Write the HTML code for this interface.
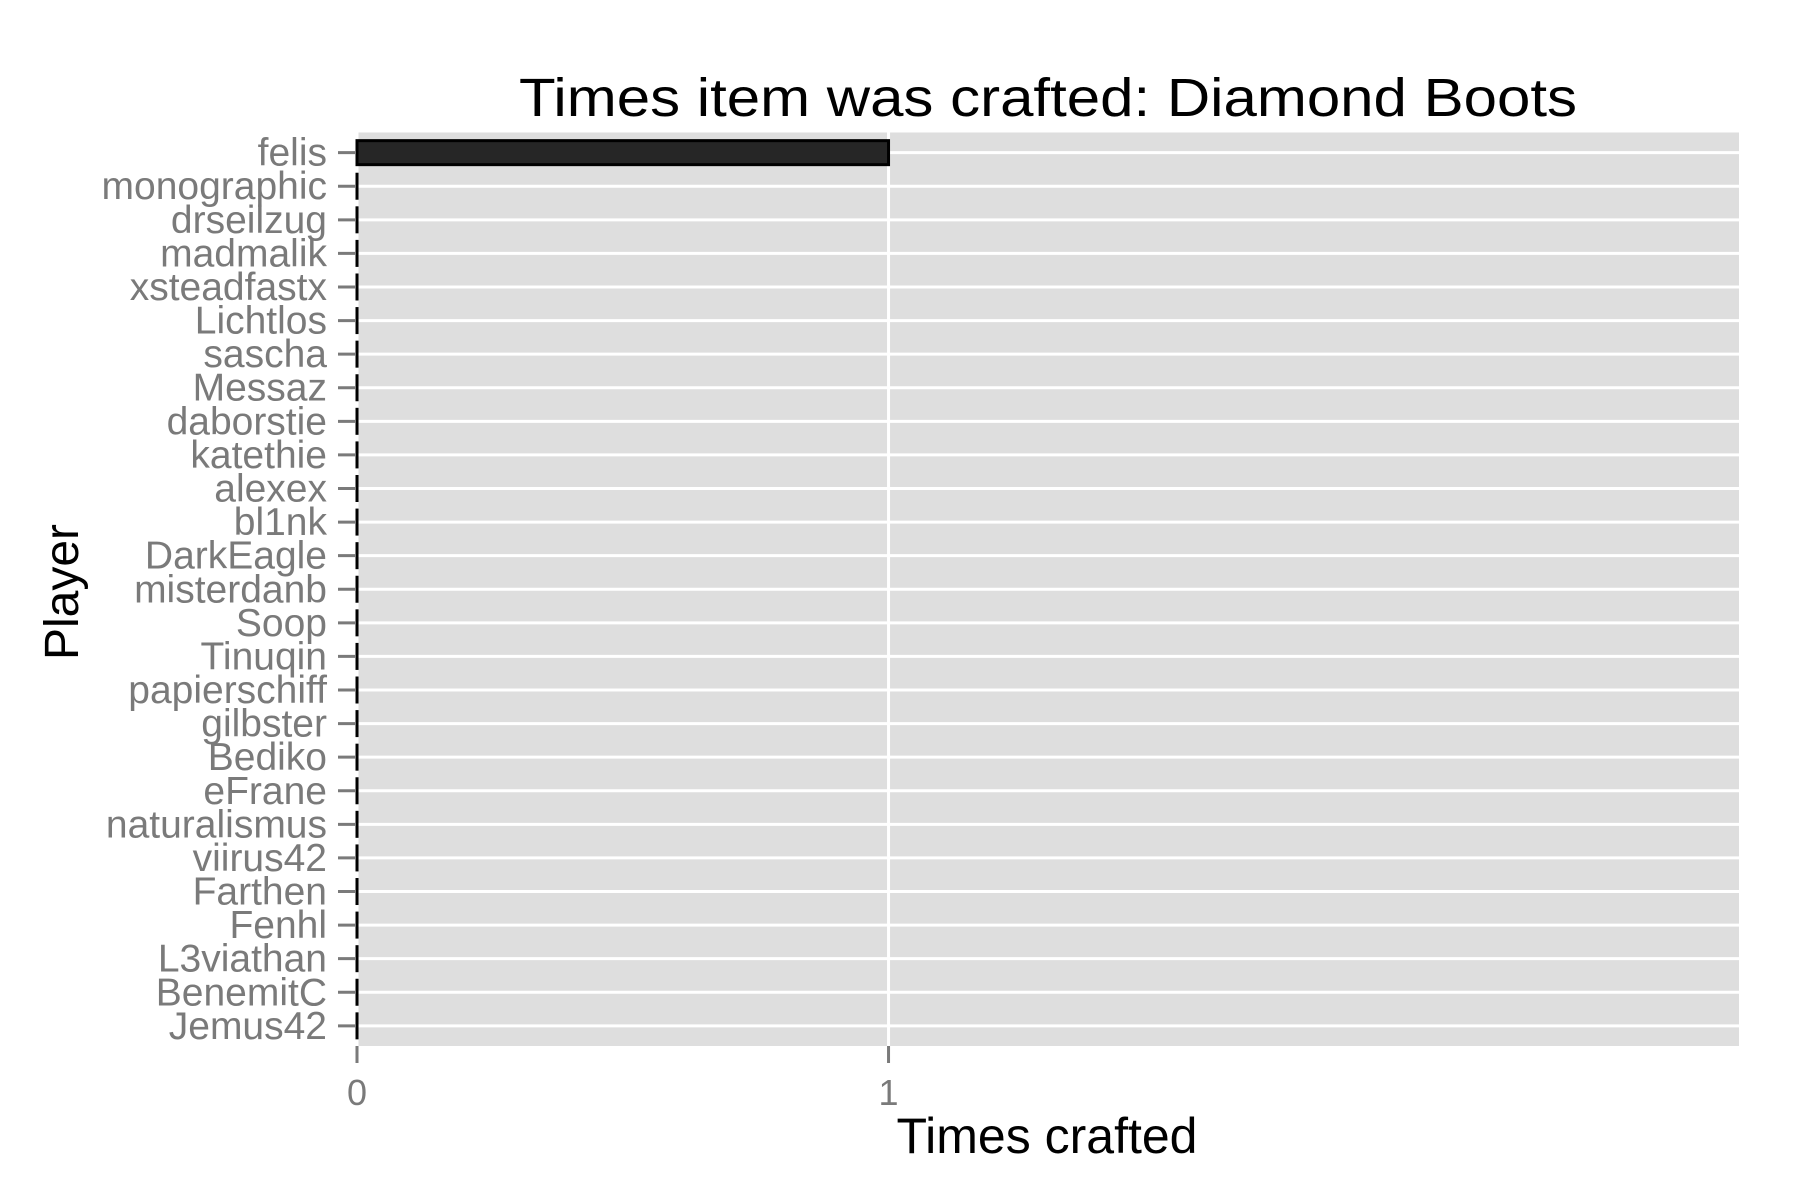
<!DOCTYPE html>
<html><head><meta charset="utf-8"><style>
html,body{margin:0;padding:0;background:#fff}
svg{display:block}
text{font-family:"Liberation Sans",Arial,sans-serif}
</style></head><body>
<svg id="chart" width="1800" height="1200" xmlns="http://www.w3.org/2000/svg">
<rect id="panel" x="357" y="132.5" width="1382" height="913.5" fill="#dedede"/>
<g id="grid"></g>
<g id="bars"></g>
<g id="yaxis"></g>
<g id="xaxis"></g>
<text x="1048" y="116" font-size="54" textLength="1058" lengthAdjust="spacingAndGlyphs" text-anchor="middle" fill="#000">Times item was crafted: Diamond Boots</text>
<text x="1047" y="1153" font-size="50" text-anchor="middle" fill="#000">Times crafted</text>
<text transform="translate(78,592) rotate(-90)" font-size="48" text-anchor="middle" fill="#000">Player</text>
</svg>
<script>
const players = ["felis","monographic","drseilzug","madmalik","xsteadfastx","Lichtlos","sascha","Messaz","daborstie","katethie","alexex","bl1nk","DarkEagle","misterdanb","Soop","Tinuqin","papierschiff","gilbster","Bediko","eFrane","naturalismus","viirus42","Farthen","Fenhl","L3viathan","BenemitC","Jemus42"];
const counts = [1,0,0,0,0,0,0,0,0,0,0,0,0,0,0,0,0,0,0,0,0,0,0,0,0,0,0];
const xTicks = [0,1];
const xTickLabels = ["0","1"];

const NS="http://www.w3.org/2000/svg";
const L=357,R=1739,T=132.5,B=1046;
const xMax=2.6;
const x=v=>L+(R-L)*v/xMax;
const step=(B-T)/(players.length-1+1.2);
const y=i=>T+step*(0.6+i);
function mk(tag,attrs,parent){const e=document.createElementNS(NS,tag);for(const k in attrs)e.setAttribute(k,attrs[k]);document.getElementById(parent).appendChild(e);return e;}

players.forEach((p,i)=>{
  const g=mk('line',{x1:L,x2:R,y1:y(i),y2:y(i),stroke:'#fff','stroke-width':3},'grid');
  
  
});
xTicks.forEach((t,i)=>{
  const g=mk('line',{x1:x(t),x2:x(t),y1:T,y2:B,stroke:'#fff','stroke-width':3},'grid');
  
  
  const tk=mk('line',{x1:x(t),x2:x(t),y1:B,y2:B+17,stroke:'#7a7a7a','stroke-width':3},'xaxis');
  
  
  const tl=mk('text',{x:x(t),y:1105,'font-size':36,'text-anchor':'middle',fill:'#7a7a7a'},'xaxis');
  tl.textContent=xTickLabels[i];
  
  
});
const bh=24;
players.forEach((p,i)=>{
  const w=x(counts[i])-x(0);
  const b=mk('rect',{x:x(0),y:y(i)-bh/2,width:Math.max(w,0.01),height:bh,fill:'#262626',stroke:'#000','stroke-width':3},'bars');
  
  
  const tk=mk('line',{x1:338,x2:355,y1:y(i),y2:y(i),stroke:'#7a7a7a','stroke-width':3},'yaxis');
  
  
  const tl=mk('text',{x:327,y:y(i)+13,'font-size':39,'text-anchor':'end',fill:'#7a7a7a'},'yaxis');
  tl.textContent=p;
  
  
});
</script>
</body></html>
